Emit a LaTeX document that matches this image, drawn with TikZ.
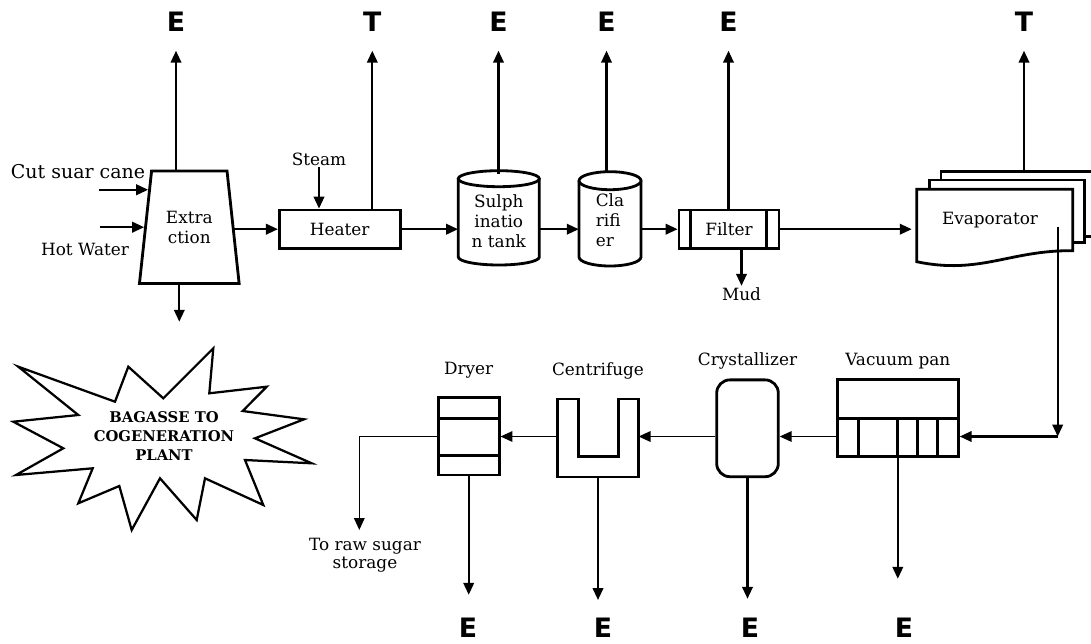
\documentclass[tikz,border=0pt]{standalone}
\usepackage{fontspec}
\setmainfont{DejaVu Serif}
\newfontfamily\esans{DejaVu Sans}
\usetikzlibrary{positioning, shapes.geometric, arrows.meta, calc}

\begin{document}
\begin{tikzpicture}[
		x=0.025cm, y=-0.025cm,
		>={Triangle[length=8.5pt, width=7.5pt]},
		unit/.style={draw=black, line width=2pt, fill=white, inner sep=0pt},
		part/.style={line width=1.8pt},
		flow/.style={->, line width=1.5pt},
		thinflow/.style={->, line width=1.1pt},
		lbl/.style={font=\fontsize{12}{14.2}\selectfont, inner sep=1pt, align=center},
		outlbl/.style={font=\esans\bfseries\fontsize{19}{19}\selectfont, inner sep=0pt}
		]
		
		\fill[white] (0,0) rectangle (1091,644);
		\useasboundingbox (0,0) rectangle (1091,644);
		
		% ==========================================
		% JUICE LINE: extraction to evaporator
		% ==========================================
		
		% Extraction
		\node[unit, trapezium, trapezium left angle=77, trapezium right angle=77,
		trapezium stretches=true, minimum width=2.5cm, minimum height=2.81cm,
		font=\fontsize{12}{14.2}\selectfont, align=center] (ext) at (189.3,227.2) {Extra\\ction};
		\node[lbl, font=\fontsize{13.5}{15}\selectfont] (cane) at (78,172) {Cut suar cane};
		\node[lbl] (water) at (85,249) {Hot Water};
		\coordinate (cane-in) at (99,190.7);
		\coordinate (water-in) at (100,229);
		\coordinate (ext-in) at ($(ext.top left corner)!0.175!(ext.bottom left corner)$);
		\draw[flow] (cane-in |- ext-in) -- (ext-in);
		\draw[flow] (water-in |- ext.west) -- (ext.west);
		\coordinate (bag-out) at (179.3,321.7);
		\draw[flow] (bag-out |- ext.south) -- (bag-out);
		
		% Bagasse star
		\draw[line width=1.6pt] (18.3,366.7) -- (115,401.7) -- (128.3,366.7) -- (163.3,398.3)
		-- (213.3,348.3) -- (209.3,393.3) -- (266.7,386.7) -- (242.7,411) -- (304,419.3)
		-- (255,438.3) -- (311.7,463.3) -- (245,460) -- (263.3,505) -- (205,478.3)
		-- (196.7,520) -- (160,478.3) -- (131.7,530) -- (119.3,486) -- (78.3,503.3)
		-- (92.7,468.3) -- (16,475) -- (63.3,448.3) -- (13.3,421.7) -- (78.3,415) -- cycle;
		\node[font=\bfseries\fontsize{10.5}{13.5}\selectfont, align=center] (bagasse) at (164,436)
		{BAGASSE TO\\COGENERATION\\PLANT};
		
		% Heater
		\node[unit, minimum width=3.02cm, minimum height=0.96cm, font=\fontsize{12}{14}\selectfont] (heater) at (339.7,229.2) {Heater};
		\node[lbl] (steam) at (319,159) {Steam};
		\draw[flow] (steam.south) -- (steam.south |- heater.north);
		\draw[flow] (ext.east |- heater.west) -- (heater.west);
		
		% Sulphitation tank
		\draw[unit] (458.3,178.7) -- (458.3,257) arc[start angle=180, end angle=360, x radius=1.0125cm, y radius=0.2cm] -- (539.3,178.7);
		\draw[unit] (498.8,178.7) ellipse [x radius=1.0125cm, y radius=0.2cm];
		\node[lbl, minimum width=2.025cm, minimum height=2.36cm, inner sep=0pt] (sulph) at (498.8,221) {Sulph\\inatio\\n tank};
		
		% Clarifier
		\draw[unit] (579,180.7) -- (579,257) arc[start angle=180, end angle=360, x radius=0.775cm, y radius=0.225cm] -- (641,180.7);
		\draw[unit] (610,180.7) ellipse [x radius=0.775cm, y radius=0.225cm];
		\node[lbl, align=left, minimum width=1.55cm, minimum height=2.36cm, inner sep=0pt] (clar) at (610,220) {Cla\\rifi\\er};
		
		% Filter
		\node[unit, minimum width=2.5cm, minimum height=0.96cm, font=\fontsize{12}{14}\selectfont] (filter) at (729,229.2) {Filter};
		\draw[part] (690.7,210) -- (690.7,248.3) (766.7,210) -- (766.7,248.3);
		\node[lbl] (mud) at (741.5,294) {Mud};
		\draw[flow] (filter.south -| mud.north) -- (mud.north);
		
		% Evaporator (three effects)
		\node[unit, minimum width=3.8cm, minimum height=1.61cm] (evap3) at (1017,203.9) {};
		\node[unit, minimum width=3.87cm, minimum height=1.57cm] (evap2) at (1006.7,211.4) {};
		\draw[unit] (916.7,189.3) -- (1072.7,189.3) -- (1072.7,250.7)
		.. controls (1010,250) and (980,275) .. (916.7,261.7) -- cycle;
		\node[lbl, minimum width=3.9cm, minimum height=1.535cm, inner sep=0pt] (evap) at (990,220) {Evaporator};
		
		% Juice flow
		\draw[flow] (heater.east) -- (sulph.west |- heater.east);
		\draw[flow] (sulph.east |- heater.east) -- (clar.west |- heater.east);
		\draw[flow] (clar.east |- heater.east) -- (filter.west);
		\draw[flow] (filter.east) -- (evap.west |- filter.east);
		
		% Outputs to the top
		\node[outlbl] (e-ext) at (176,21.5) {E};
		\node[outlbl] (t-heat) at (372.3,21.5) {T};
		\node[outlbl] (e-sulph) at (498.5,21.5) {E};
		\node[outlbl] (e-clar) at (606.5,21.5) {E};
		\node[outlbl] (e-filter) at (728.5,21.5) {E};
		\node[outlbl] (t-evap) at (1024,21.5) {T};
		\draw[flow, shorten >=0.48cm] (e-ext |- ext.north) -- (e-ext.south);
		\draw[flow, shorten >=0.48cm] (t-heat |- heater.north) -- (t-heat.south);
		\draw[flow, shorten >=0.48cm] (e-sulph |- sulph.north) -- (e-sulph.south);
		\draw[flow, shorten >=0.48cm] (e-clar |- clar.north) -- (e-clar.south);
		\draw[flow, shorten >=0.48cm] (e-filter |- filter.north) -- (e-filter.south);
		\draw[flow, shorten >=0.48cm] (t-evap |- evap3.north) -- (t-evap.south);
		
		% ==========================================
		% SUGAR LINE: vacuum pan to dryer
		% ==========================================
		
		% Vacuum pan
		\node[unit, minimum width=3.025cm, minimum height=1.92cm] (vac) at (897.8,418.3) {};
		\draw[part] (vac.west) -- (vac.east);
		\foreach \x in {858.3,897.7,917.3,937.7}
		\draw[part] (\x,418.3) -- (\x,456.7);
		\node[lbl, above=0.2cm of vac] (vac-lbl) {Vacuum pan};
		
		% Crystallizer
		\node[unit, rounded corners=0.33cm, minimum width=1.54cm, minimum height=2.42cm] (cry) at (747.5,428.3) {};
		\node[lbl, above=0.2cm of cry] (cry-lbl) {Crystallizer};
		
		% Centrifuge
		\node[minimum width=2.015cm, minimum height=1.935cm, inner sep=0pt] (cent) at (598,438) {};
		\draw[unit] (cent.north west) -- (cent.south west) -- (cent.south east) -- (cent.north east)
		-- ++(-20,0) -- ++(0,57.4) -- ++(-40,0) -- ++(0,-57.4) -- cycle;
		\node[lbl, above=0.445cm of cent] (cent-lbl) {Centrifuge};
		
		% Dryer
		\node[unit, minimum width=1.52cm, minimum height=1.94cm] (dry) at (468.7,436.2) {};
		\draw[part] (438.3,418.3) -- (499,418.3) (438.3,455.7) -- (499,455.7);
		\node[lbl, above=0.395cm of dry] (dry-lbl) {Dryer};
		
		% Syrup flow
		\coordinate (evap-out) at (1057.7,226.7);
		\coordinate (turn) at (1057.7,436.5);
		\draw[flow] (evap-out) -- (turn);
		\draw[flow] (turn) -- (vac.east |- turn);
		\draw[thinflow] (vac.west |- turn) -- (cry.east |- turn);
		\draw[thinflow] (cry.west |- turn) -- (cent.east |- turn);
		\draw[thinflow] (cent.west |- turn) -- (dry.east |- turn);
		\coordinate (store-in) at (359.3,530);
		\draw[thinflow] (dry.west |- turn) -| (store-in);
		\node[lbl, font=\fontsize{12}{12.8}\selectfont, anchor=north] (store) at (365,537) {To raw sugar\\storage};
		
		% Outputs to the bottom
		\node[outlbl] (e-dry) at (468,628) {E};
		\node[outlbl] (e-cent) at (603,628) {E};
		\node[outlbl] (e-cry) at (750,628) {E};
		\node[outlbl] (e-vac) at (904,628) {E};
		\draw[flow, shorten >=0.58cm] (dry.south) -- (dry.south |- e-dry.north);
		\draw[flow, shorten >=0.45cm] (cent.south) -- (cent.south |- e-cent.north);
		\draw[flow, shorten >=0.48cm] (cry.south) -- (cry.south |- e-cry.north);
		\draw[flow, shorten >=0.98cm] (vac.south) -- (vac.south |- e-vac.north);
		
	\end{tikzpicture}
\end{document}
